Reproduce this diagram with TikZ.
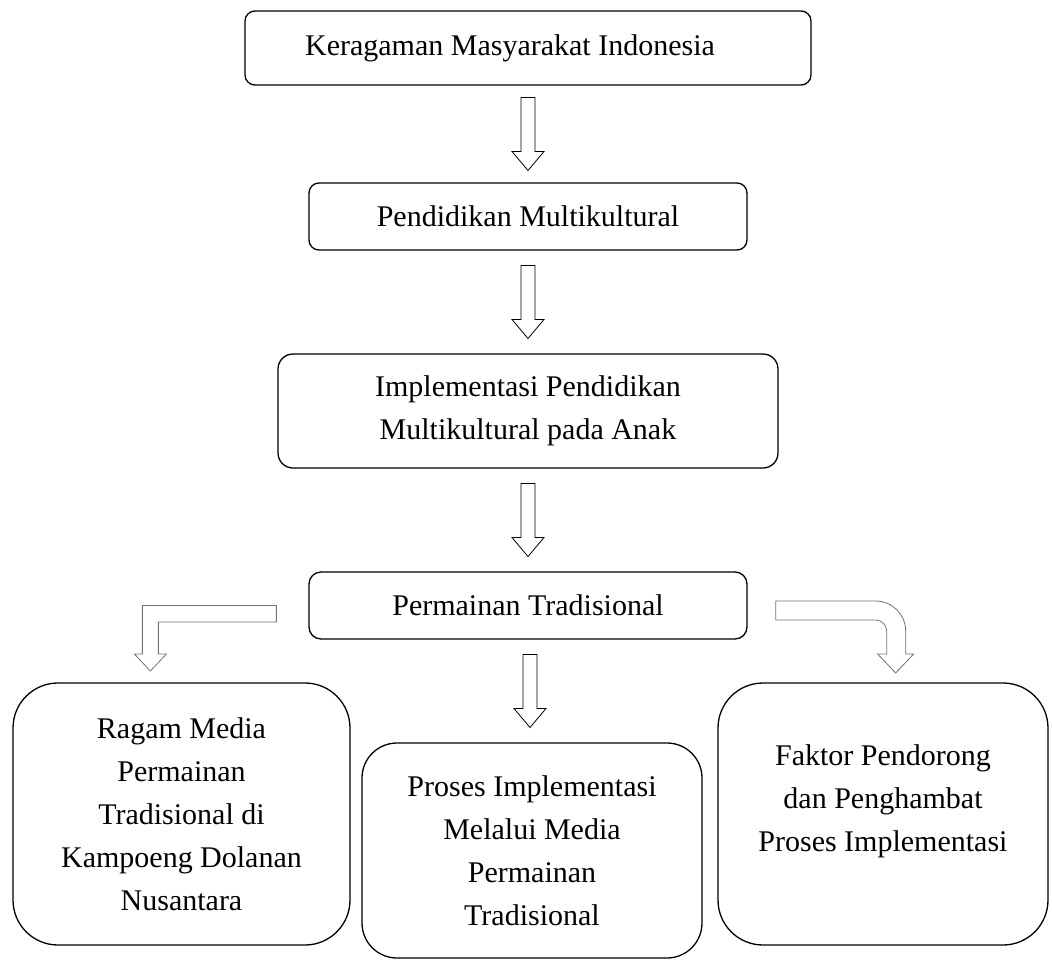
\documentclass[tikz,border=0pt]{standalone}
\usepackage{fontspec}
\setmainfont{Liberation Serif}
\usepackage{tikz}
\usetikzlibrary{calc}

\tikzset{
  roundbox/.style={draw, line width=1.3pt, rounded corners=#1, align=center,
    inner sep=0pt, font=\fontsize{30}{43}\selectfont},
  boxtext/.style={font=\fontsize{30}{43}\selectfont, align=center, inner sep=0pt},
  arrowline/.style={draw=black, line width=0.8pt, fill=white},
  bentline/.style={draw=black!55, line width=0.8pt, fill=white},
  downarrow/.pic={
    \path[arrowline] (-7,0) -- (-7,54) -- (-16,54) -- (0,73) -- (16,54) -- (7,54) -- (7,0) -- cycle;
  }
}

\begin{document}
\begin{tikzpicture}[x=1pt, y=-1pt]
\useasboundingbox (0,0) rectangle (1052,961);
% main chain
\node[roundbox=10pt, minimum width=566, minimum height=74] (b1) at (528,48) {};
\node[boxtext] (b1txt) at ($(b1.center)+(-18,0)$) {Keragaman Masyarakat Indonesia};
\node[roundbox=10pt, minimum width=438, minimum height=67] (b2) at (528,216.5) {Pendidikan Multikultural};
\node[roundbox=15pt, minimum width=500, minimum height=114] (b3) at (528,411) {Implementasi Pendidikan\\Multikultural pada Anak};
\node[roundbox=12pt, minimum width=438, minimum height=67] (b4) at (528,605.5) {Permainan Tradisional};
% three results
\node[roundbox=45pt, minimum width=337, minimum height=262] (b5) at (181.5,814) {Ragam Media\\Permainan\\Tradisional di\\Kampoeng Dolanan\\Nusantara};
\node[roundbox=35pt, minimum width=340, minimum height=215] (b6) at (532,850.5) {Proses Implementasi\\Melalui Media\\Permainan\\Tradisional};
\node[roundbox=45pt, minimum width=330, minimum height=262] (b7) at (883,814) {};
\node[boxtext] (b7txt) at ($(b7.center)+(0,-13)$) {Faktor Pendorong\\dan Penghambat\\Proses Implementasi};
% hollow down arrows
\foreach \a/\b in {b1/b2, b2/b3, b3/b4, b4/b6}{
  \pic at ($(\a.south)!.5!(\b.north)+(0,-36.5)$) {downarrow};
}
% bent arrows
\coordinate (lbend) at ($(b4.west)+(-32,0)$);
\coordinate (rbend) at ($(b4.east)+(28,-4.5)$);
\path[bentline] (lbend) -- ++(-134,0) -- ++(0,48.5) -- ++(-8,0) -- ++(16,17)
  -- ++(16,-17) -- ++(-8,0) -- ++(0,-32) -- ++(118,0) -- cycle;
\path[bentline] (rbend) -- ++(100,0) .. controls +(16.6,0) and +(0,-16.6) .. ++(30,30)
  -- ++(0,23) -- ++(8,0) -- ++(-18,19) -- ++(-18,-19) -- ++(9,0) -- ++(0,-23)
  .. controls +(0,-6.1) and +(6.1,0) .. ++(-11,-11) -- ++(-100,0) -- cycle;
\end{tikzpicture}
\end{document}
